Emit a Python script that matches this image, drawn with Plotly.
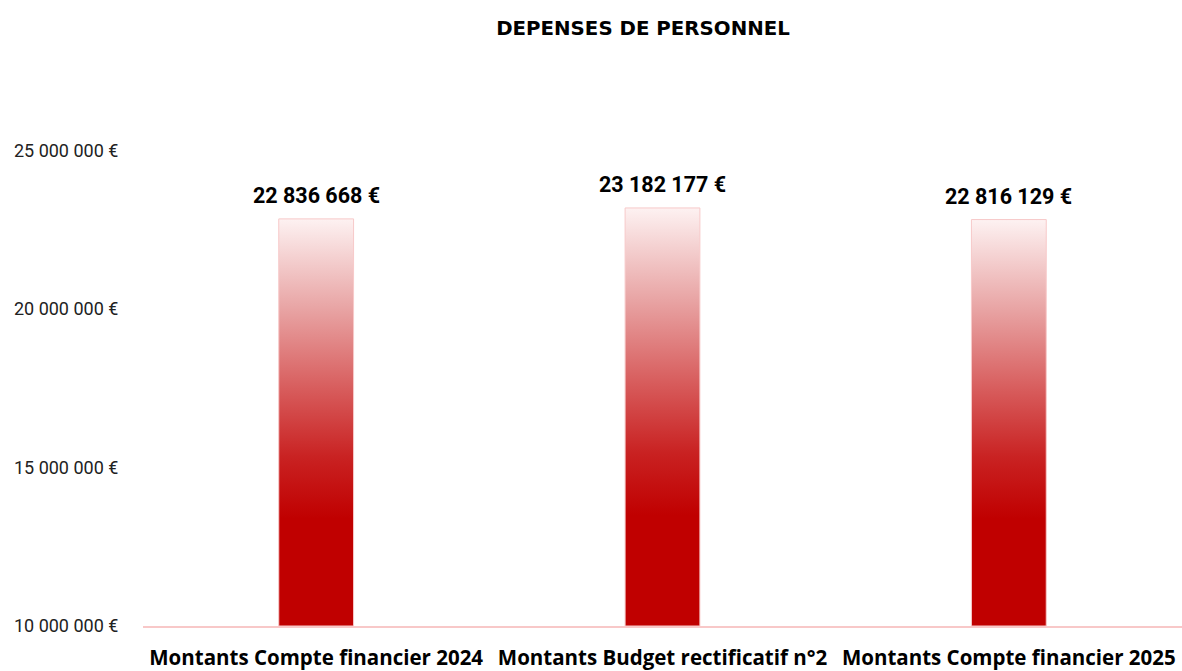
import plotly.graph_objects as go

categories = ["Montants Compte financier 2024", "Montants Budget rectificatif n°2", "Montants Compte financier 2025"]
values = [22836668, 23182177, 22816129]
y_ticks = [10000000, 15000000, 20000000, 25000000]

def fmt(v):
    return f"{v:,.0f}".replace(",", " ") + " €"

AXIS_MIN = 10000000
AXIS_MAX = 27500000
BAR_W = 0.216
colorscale = [[0, "#C00000"], [0.27, "#C00000"], [0.42, "#C92222"], [0.58, "#D75A5A"],
              [0.78, "#E8A3A3"], [1, "#FDF1F1"]]

fig = go.Figure()
for i, (c, v) in enumerate(zip(categories, values)):
    x0, x1 = i - BAR_W / 2, i + BAR_W / 2
    fig.add_trace(go.Scatter(
        x=[x0, x0, x1, x1, x0], y=[AXIS_MIN, v, v, AXIS_MIN, AXIS_MIN],
        mode="lines", fill="toself",
        line=dict(color="#F7C9C9", width=1),
        fillgradient=dict(type="vertical", colorscale=colorscale, start=AXIS_MIN, stop=v),
        hoverinfo="skip", showlegend=False, name=c))
    fig.add_annotation(x=i, y=v, text=f"<b>{fmt(v)}</b>", showarrow=False,
                       yanchor="bottom", yshift=9,
                       font=dict(size=21.5, color="#000000", family="Roboto"))

fig.update_layout(
    width=1182, height=671,
    margin=dict(l=143, r=0, t=71, b=42),
    plot_bgcolor="white", paper_bgcolor="white",
    title=dict(text="<b>DEPENSES DE PERSONNEL</b>", x=643 / 1182, xanchor="center",
               y=1 - 28 / 671, yanchor="middle",
               font=dict(size=19.8, color="#000000", family="DejaVu Sans")),
    xaxis=dict(range=[-0.5, 2.5], tickvals=list(range(len(categories))),
               ticktext=[f"<b>{c}</b>" for c in categories],
               tickfont=dict(size=20.5, color="#000000", family="Open Sans"),
               showgrid=False, zeroline=False, showline=True, linecolor="#F8C8C8", linewidth=1.5,
               ticks="outside", ticklen=13, tickcolor="rgba(0,0,0,0)"),
    yaxis=dict(range=[AXIS_MIN, AXIS_MAX], tickvals=y_ticks, ticktext=[fmt(t) for t in y_ticks],
               tickfont=dict(size=18, color="#222222", family="Roboto"),
               showgrid=False, zeroline=False, showline=False,
               ticks="outside", ticklen=20, tickcolor="rgba(0,0,0,0)"),
)
fig.write_html("out.html", config={"displayModeBar": False},
               post_script="document.body.style.margin='0';")
